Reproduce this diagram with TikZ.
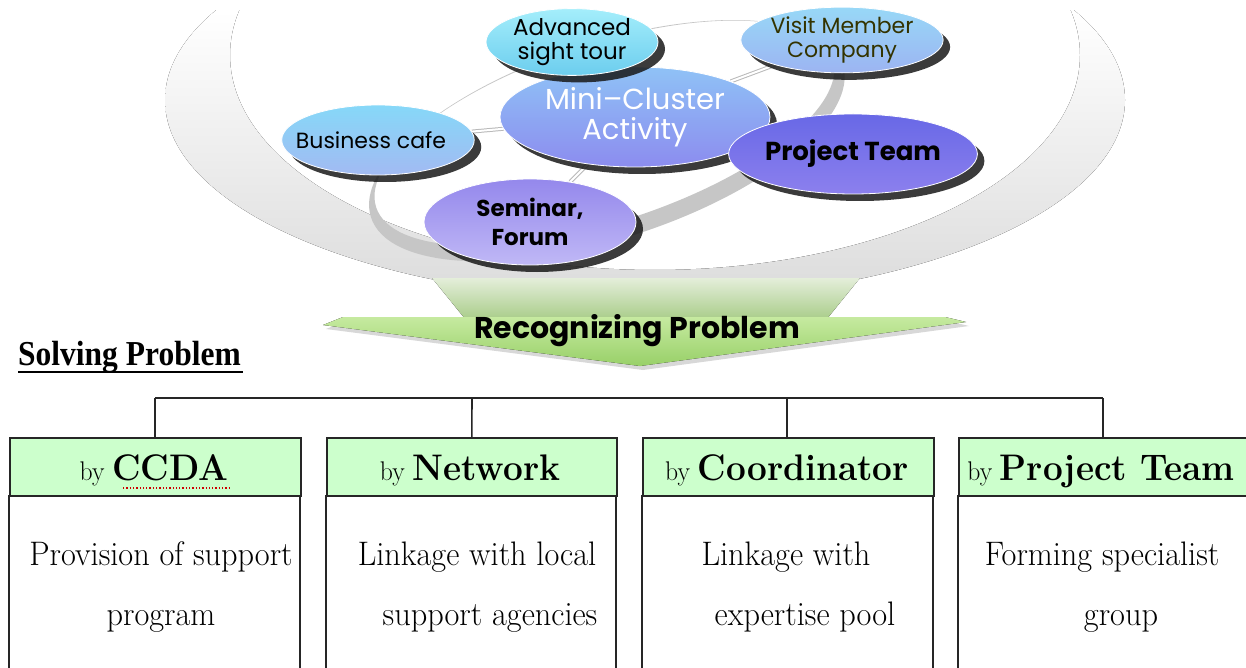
\documentclass[tikz,border=0pt]{standalone}
\usepackage{fontspec}
\newfontfamily\gothic{Poppins}
\newfontfamily\timesf{Liberation Serif}
\usetikzlibrary{shapes.geometric,shadows}
\pgfdeclarelayer{back}
\pgfdeclarelayer{mid}
\pgfsetlayers{back,mid,main}
\definecolor{hdrgreen}{HTML}{CCFFCC}
\definecolor{visittxt}{HTML}{333300}
\definecolor{advT}{HTML}{A4EEFB}\definecolor{advB}{HTML}{6CCDEE}
\definecolor{visT}{HTML}{98D8F7}\definecolor{visB}{HTML}{9CB4F2}
\definecolor{minT}{HTML}{8FC2F6}\definecolor{minB}{HTML}{8C8CEF}
\definecolor{cafT}{HTML}{86D8F8}\definecolor{cafB}{HTML}{A2BAF2}
\definecolor{ptT}{HTML}{6868E6}\definecolor{ptB}{HTML}{8C80EE}
\definecolor{semT}{HTML}{9488EC}\definecolor{semB}{HTML}{C0B8F6}
\definecolor{headT}{HTML}{C6EAA0}\definecolor{headB}{HTML}{98D068}
\definecolor{shaftT}{HTML}{E4EEDA}\definecolor{shaftB}{HTML}{A8CC88}
\begin{document}
\begin{tikzpicture}[x=1pt,y=-1pt,
  bub/.style={ellipse, inner sep=0pt, align=center, draw=white, line width=0.8pt,
    drop shadow={shadow xshift=7pt, shadow yshift=-7pt, fill=black!90, opacity=0.85}},
  link/.style={draw=gray!55, line width=1pt, double=white, double distance=2pt},
  tline/.style={draw=black!85, line width=1.6pt},
  hdr/.style={draw=black!85, line width=1.6pt, fill=hdrgreen},
  bodybox/.style={draw=black!85, line width=1.6pt},
  btxt/.style={inner sep=0pt, anchor=base},
]
\useasboundingbox (0,0) rectangle (1246,668);
\begin{pgfonlayer}{back}
\fill[white] (0,0) rectangle (1246,668);
% large soft crescent
\begin{scope}[even odd rule]
\clip
  (645,100) ellipse [x radius=480, y radius=200]
  (655,55) ellipse [x radius=425, y radius=215];
\fill[top color=white, bottom color=gray!28] (100,10) rectangle (1200,300);
\end{scope}
% grey ring
\fill[gray!45, even odd rule, rotate around={18:(605,135)}]
  (605,141) ellipse [x radius=248, y radius=98]
  (605,133) ellipse [x radius=240, y radius=89];
\end{pgfonlayer}

% bubbles
\node[bub, minimum width=270pt, minimum height=100pt, top color=minT, bottom color=minB,
  text=white, font=\gothic\fontsize{29}{30}\selectfont] (mini) at (635,117) {Mini–Cluster\\Activity};
\node[bub, minimum width=172pt, minimum height=60pt, top color=advT, bottom color=advB,
  font=\gothic\fontsize{23}{24}\selectfont] (adv) at (572,42) {Advanced\\sight tour};
\node[bub, minimum width=190pt, minimum height=64pt, top color=visT, bottom color=visB,
  text=visittxt, font=\gothic\fontsize{22}{24}\selectfont] (visit) at (842,40) {Visit Member\\Company};
\node[bub, minimum width=180pt, minimum height=70pt, top color=cafT, bottom color=cafB,
  font=\gothic\fontsize{22}{24}\selectfont] (cafe) at (378,140) {\hspace*{-14pt}Business cafe};
\node[bub, minimum width=215pt, minimum height=80pt, top color=ptT, bottom color=ptB,
  font=\gothic\bfseries\fontsize{26}{28}\selectfont] (pteam) at (853,154) {Project Team};
\node[bub, minimum width=212pt, minimum height=86pt, top color=semT, bottom color=semB,
  font=\gothic\bfseries\fontsize{23}{29}\selectfont] (sem) at (530,222) {Seminar,\\Forum};

\begin{pgfonlayer}{mid}
\draw[link] (mini) -- (adv);
\draw[link] (mini) -- (visit);
\draw[link] (mini) -- (cafe);
\draw[link] (mini) -- (pteam);
\draw[link] (mini) -- (sem);
\end{pgfonlayer}

% green arrow
\fill[top color=shaftT, bottom color=shaftB]
  (432,278) -- (860,278) -- (826,320) -- (466,320) -- cycle;
\fill[top color=headT, bottom color=headB,
  drop shadow={shadow xshift=3pt, shadow yshift=-4pt, fill=gray!60, opacity=0.5}]
  (323,325) -- (343,317) -- (945,317) -- (966,322) -- (640,366) -- cycle;
\node[font=\gothic\bfseries\fontsize{30}{30}\selectfont, inner sep=0pt] (rec) at (637,331) {Recognizing Problem};

% solving problem
\node[anchor=base west, inner sep=0pt, font=\timesf\bfseries\fontsize{35}{35}\selectfont] (solve) at (18,365)
  {\scalebox{0.9}[1]{Solving Problem}};
\draw[line width=2.5pt] (solve.base west) ++(0,7) coordinate (ul1) -- ++(225,0) coordinate (ul2);

% tree
\coordinate (bus1) at (155,398);
\coordinate (bus4) at (1103,398);
\draw[tline] (bus1) -- (bus4);

% boxes
\foreach \n/\l/\r in {1/9/300, 2/326/616, 3/642/933, 4/958/1250}{
  \draw[bodybox] (\l,495) -- (\l,690) (\r,495) -- (\r,690);
  \node[hdr, minimum height=58pt, minimum width={\r-\l}, anchor=north west, inner sep=0pt] (h\n) at (\l,437) {};
}
\draw[tline] (155,398) -- (h1.north -| 155,0);
\draw[tline] (472,398) -- (h2.north);
\draw[tline] (787,398) -- (h3.north -| 787,0);
\draw[tline] (1103,398) -- (h4.north -| 1103,0);

% header texts
\newcommand\hdrtext[1]{\scalebox{0.95}[1]{\fontsize{27}{27}\selectfont by \fontsize{37}{37}\selectfont\bfseries #1}}
\node[btxt] (t1) at (154,480) {\hdrtext{CCDA}};
\node[btxt] (t2) at (470,480) {\hdrtext{Network}};
\node[btxt] (t3) at (787,480) {\hdrtext{Coordinator}};
\node[btxt] (t4) at (1101,480) {\hdrtext{Project Team}};
\draw[red!80!black, line width=1.3pt, dotted] (123,488) -- (229,488);

% body texts
\newcommand\bodytext[1]{\scalebox{0.95}[1]{\fontsize{34}{34}\selectfont #1}}
\node[btxt] (b1a) at (161,565) {\bodytext{Provision of support}};
\node[btxt] (b1b) at (161,625) {\bodytext{program}};
\node[btxt] (b2a) at (477,565) {\bodytext{Linkage with local}};
\node[btxt] (b2b) at (490,625) {\bodytext{support agencies}};
\node[btxt] (b3a) at (786,565) {\bodytext{Linkage with}};
\node[btxt] (b3b) at (805,625) {\bodytext{expertise pool}};
\node[btxt] (b4a) at (1102,565) {\bodytext{Forming specialist}};
\node[btxt] (b4b) at (1121,625) {\bodytext{group}};
\end{tikzpicture}
\end{document}
